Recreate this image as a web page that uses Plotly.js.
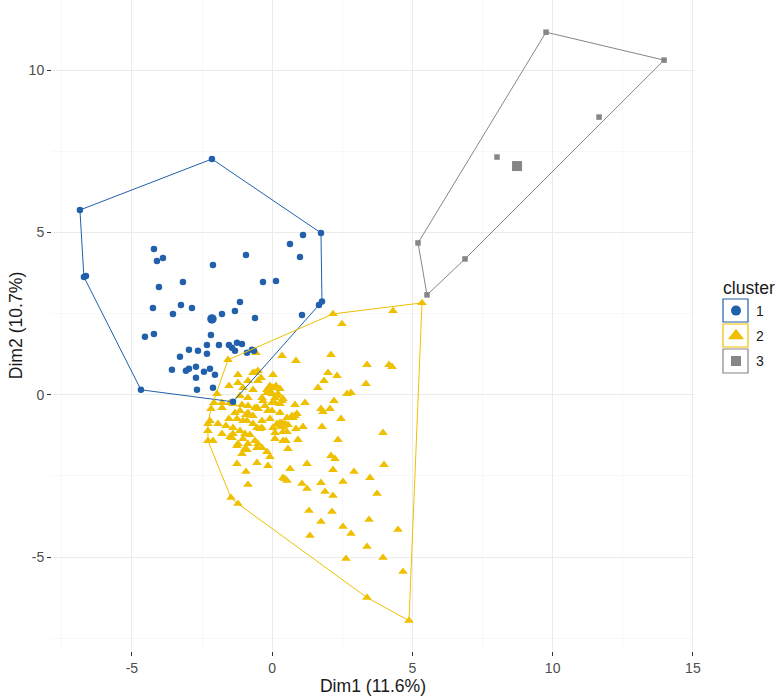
<!DOCTYPE html>
<html>
<head>
<meta charset="utf-8">
<script src="https://cdn.plot.ly/plotly-3.0.1.min.js"></script>
<style>html,body{margin:0;padding:0;background:#fff;}#chart{width:777px;height:696px;}</style>
</head>
<body>
<div id="chart"></div>
<script>
// ---- data ----
const clusterNames = ["1", "2", "3"];
const legendTitle = "cluster";
const clusterColors = ["#2160AB", "#EFC000", "#868686"];
const xTickVals = [-5, 0, 5, 10, 15];
const xTickText = ["-5", "0", "5", "10", "15"];
const yTickVals = [-5, 0, 5, 10];
const yTickText = ["-5", "0", "5", "10"];

// cluster 1 (blue circles)
const c1x = [-6.854,-2.147,1.740,1.776,1.669,-1.398,-4.679,-6.640,-6.712,-4.215,-4.108,-3.894,-2.111,-0.934,0.635,1.099,0.991,-4.037,-3.181,-0.328,0.136,-4.251,-3.252,-2.860,-1.148,-1.327,-3.538,-1.790,-0.613,1.063,-4.536,-4.215,-2.183,-2.325,-1.897,-1.541,-1.255,-1.077,-1.434,-1.327,-0.720,-2.967,-2.646,-2.325,-3.288,-3.574,-3.074,-2.967,-2.717,-2.432,-2.218,-2.040,-2.717,-2.682,-2.111,-0.899,-0.649];
const c1y = [5.692,7.262,4.985,2.877,2.769,-0.215,0.154,3.662,3.631,4.492,4.123,4.215,4.000,4.308,4.646,4.923,4.246,3.323,3.477,3.477,3.508,2.677,2.769,2.677,2.862,2.585,2.492,2.492,2.369,2.462,1.785,1.877,1.846,1.538,1.538,1.538,1.600,1.569,1.446,1.354,1.385,1.385,1.354,1.262,1.169,0.769,0.738,0.800,0.862,0.708,0.800,0.615,0.523,0.154,0.215,1.292,1.354];
const c1CenterX = [-2.147];
const c1CenterY = [2.338];

// cluster 2 (yellow triangles)
const c2x = [-0.578,-1.576,2.168,5.342,4.308,2.489,0.349,0.849,2.097,3.381,4.166,4.273,3.345,1.990,2.311,1.848,1.633,2.668,2.810,2.204,2.062,1.741,1.812,2.454,1.776,2.347,3.951,2.097,2.240,1.241,2.169,2.917,3.987,3.488,2.525,1.740,1.063,1.241,1.883,2.169,3.738,1.312,2.133,1.740,3.452,2.525,2.810,4.486,1.348,3.381,2.632,3.951,4.665,3.381,4.879,-1.220,-1.469,-2.290,-2.290,-1.969,
 -1.220,-1.220,-0.613,-0.506,-0.399,0.029,-0.685,-1.541,-1.041,-0.185,-0.078,0.029,0.171,0.349,0.813,0.741,-2.076,-2.183,-1.790,-1.398,-2.218,-1.933,-1.541,-1.148,-0.863,-0.542,-0.328,-0.150,-0.899,-0.685,-0.364,-0.078,0.278,0.456,0.849,1.098,-2.290,-1.790,-1.398,-1.148,-0.792,-0.364,0.029,0.385,-2.111,-1.434,-1.041,-0.863,-0.542,-0.185,0.100,0.492,0.920,0.563,-1.255,-0.970,-0.078,-1.255,-0.542,-0.150,0.635,-0.934,0.385,0.456,0.527,-0.863,
 -1.790,-1.077,-0.863,-0.007,0.278,0.884,-1.327,-0.934,-0.685,-0.007,0.278,0.706,-1.648,-1.255,-1.041,-0.542,0.171,0.349,0.563,-1.398,-0.970,-0.435,0.100,0.527,-1.505,-1.220,-0.899,-0.613,-0.506,-0.364,0.385,-1.077,
 -0.685,-0.506,-0.078,-0.007,0.100,0.207,0.385,-1.505,-1.148,-0.863,-0.506,-0.257,0.100,-0.364,-0.613,0.527,1.170,0.813,-0.185,0.136,0.278,-0.863];
const c2y = [1.292,1.077,2.492,2.831,2.585,2.185,1.200,1.046,1.231,0.923,0.923,0.862,0.338,0.677,0.585,0.431,0.215,0.031,0.062,-0.185,-0.431,-0.431,-0.523,-0.738,-0.985,-1.385,-1.169,-1.877,-1.969,-2.123,-2.308,-2.369,-2.154,-2.554,-2.677,-2.708,-2.738,-2.892,-2.985,-3.108,-3.046,-3.569,-3.600,-3.908,-3.846,-4.062,-4.277,-4.154,-4.338,-4.677,-5.046,-5.015,-5.446,-6.246,-6.954,-3.354,-3.169,-1.415,-0.892,0.031,
 0.615,0.369,0.677,0.738,0.523,0.615,0.154,0.277,0.215,0.154,0.277,0.215,-0.031,-0.185,-0.308,-0.708,-0.246,-0.431,-0.400,-0.277,-0.800,-0.892,-0.738,-0.492,-0.554,-0.400,-0.185,-0.492,-0.800,-0.892,-0.800,-0.738,-0.862,-0.892,-1.046,-0.985,-1.108,-1.200,-1.015,-1.108,-1.231,-1.015,-1.015,-1.138,-1.415,-1.323,-1.354,-1.508,-1.631,-1.754,-1.354,-1.415,-1.385,-1.662,-1.569,-1.662,-1.908,-2.123,-2.092,-2.185,-2.277,-2.369,-2.554,-2.585,-2.646,-2.769,
 -0.246,-0.308,-0.338,-0.246,-0.277,-0.585,-0.554,-0.615,-0.646,-0.492,-0.554,-0.646,-0.954,-0.738,-0.800,-1.015,-0.892,-0.985,-0.923,-1.200,-1.200,-1.046,-1.169,-1.138,-1.292,-1.508,-1.692,-1.415,-1.508,-1.631,-1.415,-1.815,
 0.677,0.431,0.123,0.031,-0.092,0.031,-0.123,-0.246,-0.031,-0.092,-0.431,-0.338,-0.246,-0.092,-0.400,-0.708,-0.246,-0.646,0.062,0.277,0.185,0.431];
const c2CenterX = [0.349];
const c2CenterY = [-0.923];

// cluster 3 (grey squares)
const c3x = [9.765,13.973,11.655,8.017,5.200,6.876,5.521];
const c3y = [11.169,10.308,8.554,7.323,4.677,4.185,3.077];
const c3CenterX = [8.731];
const c3CenterY = [7.046];

// ---- convex hull (monotone chain) ----
function hull(xs, ys) {
  const p = xs.map((x, i) => [x, ys[i]]).sort((a, b) => a[0] - b[0] || a[1] - b[1]);
  const cross = (o, a, b) => (a[0]-o[0])*(b[1]-o[1]) - (a[1]-o[1])*(b[0]-o[0]);
  const lower = [], upper = [];
  for (const q of p) { while (lower.length >= 2 && cross(lower[lower.length-2], lower[lower.length-1], q) <= 0) lower.pop(); lower.push(q); }
  for (let i = p.length - 1; i >= 0; i--) { const q = p[i]; while (upper.length >= 2 && cross(upper[upper.length-2], upper[upper.length-1], q) <= 0) upper.pop(); upper.push(q); }
  const h = lower.slice(0, -1).concat(upper.slice(0, -1));
  h.push(h[0]);
  return {x: h.map(q => q[0]), y: h.map(q => q[1])};
}

const font = "'Liberation Sans', Arial, sans-serif";
const pts = [
  {x: c2x, y: c2y, sym: "triangle-up", size: 8.5, ci: 1},
  {x: c1x, y: c1y, sym: "circle", size: 6.5, ci: 0},
  {x: c3x, y: c3y, sym: "square", size: 5.5, ci: 2}
];
const traces = [];
pts.forEach(p => traces.push({
  type: "scatter", mode: "markers", x: p.x, y: p.y, showlegend: false, hoverinfo: "skip",
  marker: {symbol: p.sym, size: p.size, color: clusterColors[p.ci], line: {width: 0}}
}));
[[c1x, c1y, 0], [c2x, c2y, 1], [c3x, c3y, 2]].forEach(([xs, ys, ci]) => {
  const h = hull(xs, ys);
  traces.push({type: "scatter", mode: "lines", x: h.x, y: h.y, showlegend: false, hoverinfo: "skip",
    line: {color: clusterColors[ci], width: 1}});
});
[[c1CenterX, c1CenterY, "circle", 9.5, 0], [c2CenterX, c2CenterY, "triangle-up", 12, 1], [c3CenterX, c3CenterY, "square", 10, 2]].forEach(([xs, ys, s, sz, ci]) => {
  traces.push({type: "scatter", mode: "markers", x: xs, y: ys, showlegend: false, hoverinfo: "skip",
    marker: {symbol: s, size: sz, color: clusterColors[ci], line: {width: 0}}});
});
// legend entries
[["circle", 10], ["triangle-up", 14], ["square", 10]].forEach(([s, sz], i) => {
  traces.push({type: "scatter", mode: "markers", x: [null], y: [null], name: clusterNames[i],
    legendgroup: "g" + i, showlegend: true,
    marker: {symbol: s, size: sz, color: clusterColors[i], line: {width: 0}}});
});

const W = 777, H = 696, ml = 52, mr = 83, mt = 0, mb = 45;
const pw = W - ml - mr, ph = H - mt - mb;
const px = v => (v - ml) / pw, py = v => 1 - (v - mt) / ph;
const boxes = [[299, 322], [324, 347], [349, 373]];
const shapes = boxes.map((b, i) => ({
  type: "rect", xref: "paper", yref: "paper", x0: px(723), x1: px(748), y0: py(b[1]), y1: py(b[0]),
  line: {color: clusterColors[i], width: 1.2}, fillcolor: "rgba(0,0,0,0)", layer: "below"
}));

const axisCommon = {
  ticks: "outside", ticklen: 4, tickwidth: 1, tickcolor: "#333333",
  showline: false, zeroline: false, gridcolor: "#EBEBEB", gridwidth: 1,
  tickfont: {family: font, size: 14, color: "#4D4D4D"},
  tickmode: "array", fixedrange: true
};
const layout = {
  width: W, height: H,
  margin: {l: ml, r: mr, t: mt, b: mb},
  paper_bgcolor: "#FFFFFF", plot_bgcolor: "#FFFFFF",
  font: {family: font},
  xaxis: Object.assign({}, axisCommon, {
    range: [-7.85, 15.04], tickvals: xTickVals, ticktext: xTickText,
    minor: {dtick: 2.5, tick0: 0, showgrid: true, gridcolor: "#F4F4F4", gridwidth: 0.6, ticks: ""},
    title: {text: "Dim1 (11.6%)", font: {family: font, size: 17.6, color: "#1A1A1A"}, standoff: 3}
  }),
  yaxis: Object.assign({}, axisCommon, {
    range: [-7.89, 12.16], tickvals: yTickVals, ticktext: yTickText,
    minor: {dtick: 2.5, tick0: 0, showgrid: true, gridcolor: "#F4F4F4", gridwidth: 0.6, ticks: ""},
    title: {text: "Dim2 (10.7%)", font: {family: font, size: 17.6, color: "#1A1A1A"}, standoff: 1}
  }),
  showlegend: true,
  legend: {
    x: px(716), y: py(295), xanchor: "left", yanchor: "top",
    traceorder: "grouped", tracegroupgap: 4,
    font: {family: font, size: 14, color: "#1A1A1A"},
    bgcolor: "rgba(0,0,0,0)", borderwidth: 0
  },
  annotations: [{
    text: legendTitle, xref: "paper", yref: "paper", x: px(721), y: py(288),
    xanchor: "left", yanchor: "middle", showarrow: false,
    font: {family: font, size: 17.6, color: "#1A1A1A"}
  }],
  shapes: shapes
};
Plotly.newPlot("chart", traces, layout, {displayModeBar: false, staticPlot: true});
</script>
</body>
</html>
